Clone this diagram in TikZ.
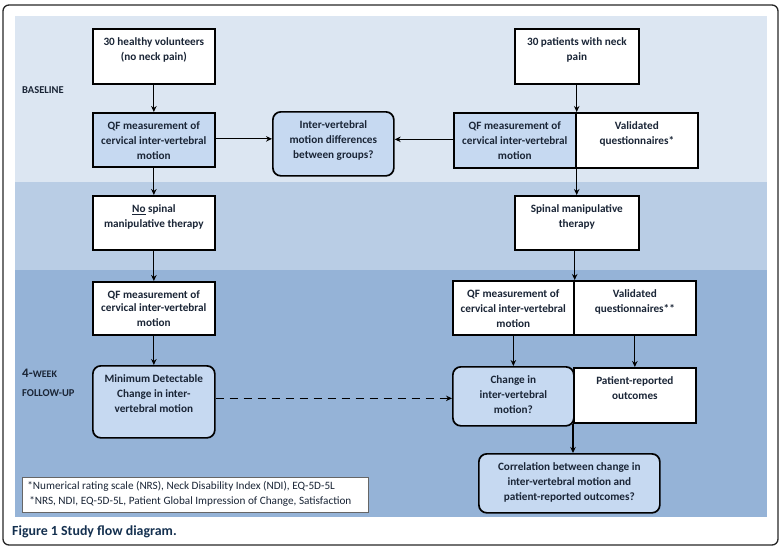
\documentclass[tikz,border=0pt]{standalone}
\usepackage{fontspec}
\setmainfont{Carlito}
\usetikzlibrary{arrows.meta}
\definecolor{bandA}{HTML}{DCE6F2}
\definecolor{bandB}{HTML}{B9CDE5}
\definecolor{bandC}{HTML}{95B3D7}
\definecolor{lightbox}{HTML}{C6D9F1}
\definecolor{txt}{HTML}{1A2536}
\definecolor{capcol}{HTML}{14304F}
\newcommand{\cell}[3]{\parbox[c][#2][t]{#1}{\centering\fontsize{11.2}{15}\selectfont\rule{0pt}{17pt}#3}}
\tikzset{
  bx/.style={draw=black, line width=1.7pt, fill=white, inner sep=0pt, anchor=north west, text=txt, font=\bfseries},
  rbx/.style={bx, rounded corners=8pt, fill=lightbox},
  lbx/.style={bx, fill=lightbox},
  arr/.style={-{Stealth[length=6pt,width=5.5pt]}, line width=1.2pt, draw=black},
  darr/.style={arr, dash pattern=on 8pt off 6pt},
  lbl/.style={anchor=west, inner sep=0pt, text=txt, font=\bfseries}
}
\begin{document}
\begin{tikzpicture}[x=1pt, y=-1pt]
\useasboundingbox (0,0) rectangle (784,551);
% bands
\fill[bandA] (15,16) rectangle (767,182);
\fill[bandB] (15,182) rectangle (767,270);
\fill[bandC] (15,270) rectangle (767,517);
% outer frame
\draw[line width=1.3pt, rounded corners=6pt, draw=black!85] (3,5) rectangle (778,545);

% stage labels
\node[lbl, font=\bfseries\fontsize{10.5}{11}\selectfont] (lbase) at (22,90) {BASELINE};
\node[lbl] (lweek) at (22,373) {\fontsize{13}{14}\selectfont 4-\fontsize{10}{14}\selectfont WEEK};
\node[lbl, font=\bfseries\fontsize{10.5}{11}\selectfont] (lfol) at (22,393) {FOLLOW-UP};

% baseline
\node[bx] (healthy) at (92,28) {\cell{122pt}{55pt}{30 healthy volunteers\\(no neck pain)}};
\node[lbx] (qfl1) at (92,112) {\cell{122pt}{54pt}{QF measurement of\\cervical inter-vertebral\\motion}};
\node[rbx] (diff) at (272,111) {\cell{121pt}{64pt}{Inter-vertebral\\motion differences\\between groups?}};
\node[bx] (patients) at (514,28) {\cell{124pt}{55pt}{30 patients with neck\\pain}};
\node[lbx] (qfr1) at (453,112) {\cell{122pt}{55pt}{QF measurement of\\cervical inter-vertebral\\motion}};
\node[bx] (val1) at (575,112) {\cell{122pt}{55pt}{Validated\\questionnaires*}};

% intervention
\node[bx] (nospinal) at (92,195) {\cell{122pt}{54pt}{\underline{No} spinal\\manipulative therapy}};
\node[bx] (spinal) at (514,195) {\cell{124pt}{54pt}{Spinal manipulative\\therapy}};

% follow-up
\node[bx] (qfl2) at (92,281) {\cell{122pt}{53pt}{\vspace{-2pt}QF measurement of\\cervical inter-vertebral\\motion}};
\node[bx] (qfr2) at (452,280) {\cell{121pt}{54pt}{QF measurement of\\cervical inter-vertebral\\motion}};
\node[bx] (val2) at (573,280) {\cell{122pt}{54pt}{Validated\\questionnaires**}};
\node[rbx] (mdc) at (92,365) {\cell{122pt}{72pt}{Minimum Detectable\\Change in inter-\\vertebral motion}};
\node[bx] (pro) at (573,367) {\cell{122pt}{55pt}{Patient-reported\\outcomes}};
\node[rbx] (chg) at (452,366) {\cell{121pt}{59pt}{Change in\\inter-vertebral\\motion?}};
\node[rbx] (corr) at (478,453) {\cell{181pt}{59pt}{Correlation between change in\\inter-vertebral motion and\\patient-reported outcomes?}};

% footnote
\node[draw=black!60, line width=0.8pt, fill=white, anchor=north west, inner ysep=0pt, inner xsep=5pt, text=txt] (foot) at (22,477)
  {\parbox[c][35pt][t]{336pt}{\raggedright\fontsize{11.2}{15}\selectfont\rule{0pt}{12pt}*Numerical rating scale (NRS), Neck Disability Index (NDI), EQ-5D-5L\\*\,*NRS, NDI, EQ-5D-5L, Patient Global Impression of Change, Satisfaction}};

% caption
\node[anchor=base west, inner sep=0pt, text=capcol, font=\bfseries\fontsize{13.9}{15}\selectfont] (cap) at (12,535) {Figure 1 Study flow diagram.};

% connectors
\draw[arr] (healthy) -- (qfl1);
\draw[arr] (qfl1) -- (nospinal);
\draw[arr] (nospinal) -- (qfl2);
\draw[arr] (qfl2) -- (mdc);
\draw[arr] ([yshift=1pt]qfl1.east) -- ([yshift=1pt]qfl1.east -| diff.west);
\draw[arr] ([yshift=1pt]qfr1.west) -- ([yshift=1pt]qfr1.west -| diff.east);
\draw[arr] (patients.south -| qfr1.north east) -- (qfr1.north east);
\draw[arr] (qfr1.south east) -- (qfr1.south east |- spinal.north);
\draw[arr] (spinal.south -| qfr2.north east) -- (qfr2.north east);
\draw[arr] (qfr2.south) -- (qfr2.south |- chg.north);
\draw[arr] (val2.south) -- (val2.south |- pro.north);
\draw[darr] ([yshift=-2pt]chg.west -| mdc.east) -- ([yshift=-2pt]chg.west);
\draw[arr] (pro.south west) -- (pro.south west |- corr.north);
\end{tikzpicture}
\end{document}
